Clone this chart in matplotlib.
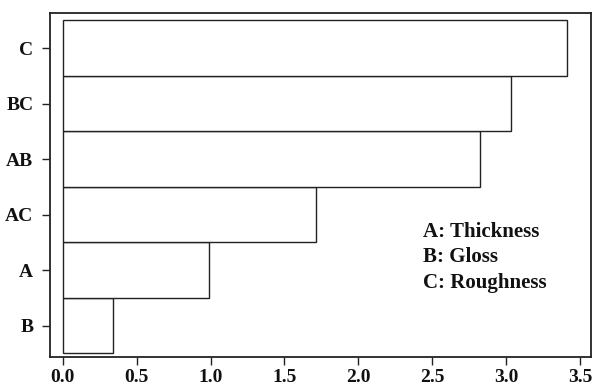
import matplotlib
matplotlib.use('Agg')
import matplotlib.pyplot as plt

# factor effects (bottom to top)
factors = ['B', 'A', 'AC', 'AB', 'BC', 'C']
effects = [0.34, 0.99, 1.71, 2.82, 3.03, 3.41]
xticks = [0.0, 0.5, 1.0, 1.5, 2.0, 2.5, 3.0, 3.5]
key_lines = ['A: Thickness', 'B: Gloss', 'C: Roughness']

plt.rcParams['font.family'] = 'Liberation Serif'
plt.rcParams['font.weight'] = 'bold'

fig = plt.figure(figsize=(5.92, 3.87), dpi=100)
ax = fig.add_axes([0.0845, 0.078, 0.914, 0.888])

ypos = list(range(len(factors)))
ax.barh(ypos, effects, height=1.0, left=0, color='white', edgecolor='#222222', linewidth=1.0)

ax.set_xlim(-0.086, 3.574)
ax.set_ylim(-0.56, 5.63)
ax.set_yticks(ypos)
ax.set_yticklabels(factors)
ax.set_xticks(xticks)
ax.set_xticklabels(['%.1f' % t for t in xticks])
ax.tick_params(axis='both', direction='out', length=6, width=1.0, color='#222222', labelsize=14)
ax.tick_params(axis='y', pad=6)
ax.tick_params(axis='x', pad=3)
for lbl in ax.get_xticklabels() + ax.get_yticklabels():
    lbl.set_fontweight('bold')
    lbl.set_color('#111111')

for s in ax.spines.values():
    s.set_linewidth(1.3)
    s.set_color('#222222')

# key for the factor letters
for i, line in enumerate(key_lines):
    ax.text(2.436, 1.60 - i * 0.46, line, fontsize=15, fontweight='bold', color='#111111',
            ha='left', va='baseline')

fig.savefig('out.png', dpi=100, facecolor='white')
